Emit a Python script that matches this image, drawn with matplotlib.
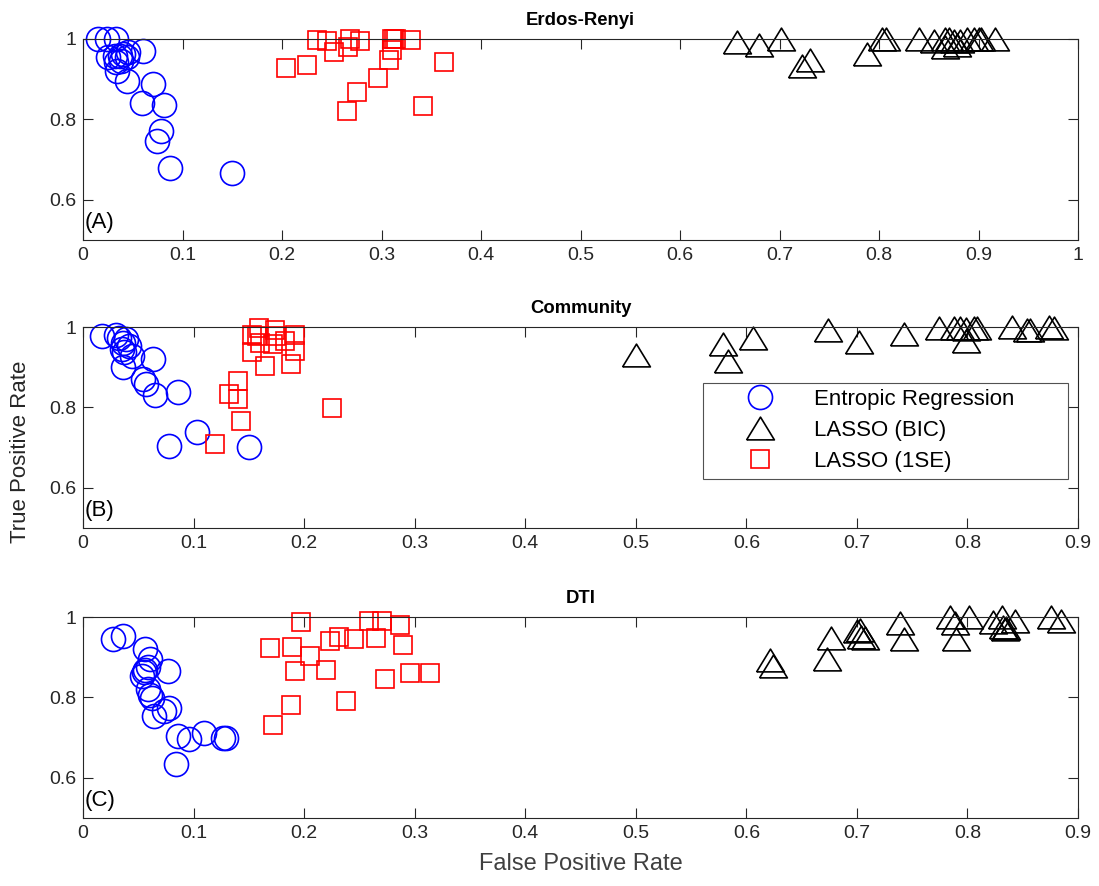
import numpy as np
import matplotlib
matplotlib.use("Agg")
import matplotlib.pyplot as plt

plt.rcParams['font.family'] = ['Liberation Sans', 'DejaVu Sans']

# ---- datos ----
# (A) Erdos-Renyi
er_x_A = [0.015, 0.024, 0.033, 0.060, 0.025, 0.032, 0.037, 0.040, 0.044, 0.045, 0.033,
          0.038, 0.034, 0.044, 0.070, 0.059, 0.081, 0.078, 0.074, 0.087, 0.150]
er_y_A = [1.0, 1.0, 1.0, 0.971, 0.954, 0.958, 0.958, 0.963, 0.954, 0.967, 0.942,
          0.946, 0.920, 0.896, 0.888, 0.842, 0.837, 0.771, 0.746, 0.679, 0.667]
bic_x_A = [0.657, 0.679, 0.702, 0.731, 0.723, 0.788, 0.803, 0.807, 0.840, 0.855, 0.866,
           0.866, 0.870, 0.875, 0.878, 0.881, 0.888, 0.895, 0.900, 0.903, 0.917]
bic_y_A = [0.992, 0.985, 1.0, 0.949, 0.933, 0.962, 1.0, 1.0, 1.0, 0.995, 1.0,
           0.980, 1.0, 0.995, 0.985, 0.995, 1.0, 1.0, 1.0, 1.0, 1.0]
se_x_A = [0.204, 0.225, 0.235, 0.245, 0.252, 0.268, 0.266, 0.278, 0.275, 0.265, 0.296,
          0.311, 0.313, 0.315, 0.330, 0.311, 0.308, 0.363, 0.342]
se_y_A = [0.929, 0.935, 0.998, 0.995, 0.967, 1.0, 0.981, 0.994, 0.867, 0.821, 0.902,
          1.0, 0.999, 1.0, 0.997, 0.972, 0.948, 0.942, 0.833]

# (B) Community
er_x_B = [0.017, 0.030, 0.033, 0.036, 0.039, 0.035, 0.042, 0.037, 0.044, 0.036, 0.063,
          0.054, 0.057, 0.065, 0.086, 0.103, 0.078, 0.150]
er_y_B = [0.977, 0.981, 0.972, 0.961, 0.969, 0.945, 0.953, 0.937, 0.929, 0.900, 0.920,
          0.871, 0.859, 0.831, 0.839, 0.738, 0.703, 0.702]
bic_x_B = [0.500, 0.579, 0.583, 0.606, 0.674, 0.702, 0.743, 0.774, 0.788, 0.793, 0.799,
           0.799, 0.806, 0.809, 0.840, 0.854, 0.857, 0.874, 0.878]
bic_y_B = [0.930, 0.958, 0.915, 0.972, 0.993, 0.962, 0.982, 0.998, 0.998, 0.998, 0.966,
           0.996, 0.998, 0.998, 1.0, 0.992, 0.992, 1.0, 0.998]
se_x_B = [0.159, 0.153, 0.157, 0.153, 0.160, 0.174, 0.175, 0.172, 0.183, 0.192, 0.192,
          0.165, 0.188, 0.140, 0.132, 0.140, 0.143, 0.119, 0.225]
se_y_B = [0.998, 0.981, 0.977, 0.937, 0.961, 0.993, 0.977, 0.957, 0.965, 0.981, 0.941,
          0.904, 0.908, 0.866, 0.833, 0.822, 0.765, 0.710, 0.798]

# (C) DTI
er_x_C = [0.027, 0.036, 0.056, 0.061, 0.056, 0.053, 0.055, 0.077, 0.059, 0.062, 0.078,
          0.073, 0.064, 0.086, 0.096, 0.109, 0.127, 0.129, 0.084, 0.059, 0.061]
er_y_C = [0.946, 0.952, 0.921, 0.895, 0.867, 0.853, 0.863, 0.865, 0.822, 0.798, 0.773,
          0.765, 0.753, 0.704, 0.696, 0.711, 0.700, 0.699, 0.635, 0.875, 0.806]
bic_x_C = [0.621, 0.624, 0.673, 0.677, 0.700, 0.703, 0.704, 0.707, 0.739, 0.743, 0.784,
           0.789, 0.790, 0.801, 0.823, 0.831, 0.832, 0.835, 0.843, 0.834, 0.876, 0.885]
bic_y_C = [0.892, 0.878, 0.896, 0.948, 0.965, 0.967, 0.951, 0.948, 0.986, 0.945, 1.0,
           0.986, 0.946, 1.0, 0.988, 1.0, 0.976, 0.972, 0.990, 0.970, 1.0, 0.990]
se_x_C = [0.197, 0.169, 0.189, 0.205, 0.223, 0.232, 0.245, 0.259, 0.270, 0.265, 0.287,
          0.289, 0.192, 0.220, 0.273, 0.296, 0.314, 0.188, 0.238, 0.172]
se_y_C = [0.987, 0.922, 0.926, 0.903, 0.940, 0.950, 0.946, 0.991, 0.989, 0.948, 0.979,
          0.930, 0.865, 0.867, 0.846, 0.861, 0.861, 0.781, 0.792, 0.732]

titulos = ['Erdos-Renyi', 'Community', 'DTI']
etiquetas = ['(A)', '(B)', '(C)']
xmax = [1.0, 0.9, 0.9]
datos = [(er_x_A, er_y_A, bic_x_A, bic_y_A, se_x_A, se_y_A),
         (er_x_B, er_y_B, bic_x_B, bic_y_B, se_x_B, se_y_B),
         (er_x_C, er_y_C, bic_x_C, bic_y_C, se_x_C, se_y_C)]

# triangulo estilo MATLAB (mas ancho que alto)
tri = [(-1, -0.82), (1, -0.82), (0, 0.82), (-1, -0.82)]

W, H = 1099, 886
fig = plt.figure(figsize=(W / 100, H / 100), dpi=100)
tops = [39, 327, 617]
alto = 201
gris = '#262626'

for i in range(3):
    ax = fig.add_axes([83 / W, 1 - (tops[i] + alto) / H, 995 / W, alto / H])
    erx, ery, bx, by, sx, sy = datos[i]
    ax.plot(erx, ery, 'o', ms=17.3, mfc='none', mec='#0000FF', mew=1.2,
            clip_on=False, label='Entropic Regression')
    ax.plot(bx, by, marker=tri, ls='none', ms=20, mfc='none', mec='k', mew=1.2,
            clip_on=False, label='LASSO (BIC)')
    ax.plot(sx, sy, 's', ms=13.5, mfc='none', mec='#FF0000', mew=1.2,
            clip_on=False, label='LASSO (1SE)')
    ax.set_xlim(0, xmax[i])
    ax.set_ylim(0.5, 1)
    xt = np.round(np.arange(0, xmax[i] + 0.001, 0.1), 1)
    ax.set_xticks(xt)
    ax.set_xticklabels([f'{t:g}' for t in xt])
    ax.set_yticks([0.6, 0.8, 1.0])
    ax.set_yticklabels(['0.6', '0.8', '1'])
    ax.tick_params(direction='in', length=7, width=0.8, top=True, right=True,
                   labelsize=14, colors=gris, pad=5)
    for sp in ax.spines.values():
        sp.set_color(gris)
        sp.set_linewidth(0.8)
    ax.set_title(titulos[i], fontsize=13.3, fontweight='bold', pad=10)
    ax.text(0.002, 0.035, etiquetas[i], transform=ax.transAxes, fontsize=16,
            ha='left', va='bottom', color='k')
    if i == 1:
        leg = ax.legend(loc='center', bbox_to_anchor=(0.623, 0.23, 0.367, 0.508),
                        mode='expand', borderaxespad=0, fontsize=16, frameon=True,
                        fancybox=False, edgecolor=gris, handlelength=4.58,
                        handletextpad=0.12, labelspacing=0.45, borderpad=0.3)
        leg.get_frame().set_linewidth(0.8)
    if i == 2:
        ax.set_xlabel('False Positive Rate', fontsize=17, color='#404040', labelpad=8)

fig.text(21 / W, 1 - 452 / H, 'True Positive Rate', rotation=90, fontsize=16,
         ha='center', va='center', color=gris)

fig.savefig('out.png', dpi=100)
